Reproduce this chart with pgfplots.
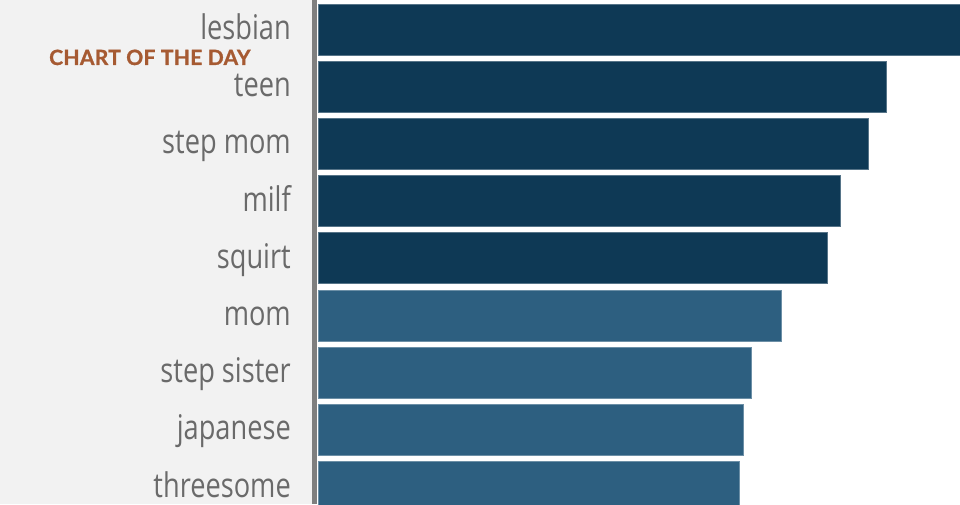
\documentclass[border=0pt]{standalone}
\usepackage{fontspec}
\usepackage{pgfplots}
\pgfplotsset{compat=1.18}
\setmainfont{Open Sans}
\newfontfamily\labelfont{Open Sans}[FakeStretch=0.8]
\newfontfamily\tagfont{Lato}[LetterSpace=1.5, BoldFeatures={FakeBold=1.2}]
\definecolor{bg}{HTML}{F2F2F2}
\definecolor{darkbar}{HTML}{0E3955}
\definecolor{lightbar}{HTML}{2D5F80}
\definecolor{labelgray}{HTML}{6A6A6A}
\definecolor{tagbrown}{HTML}{A65A32}
\definecolor{axisgray}{HTML}{7F7F7F}

\begin{document}
\begin{tikzpicture}
  \useasboundingbox (0,0) rectangle (960pt,504pt);
  \clip (0,0) rectangle (960pt,504pt);
  \fill[white] (0,0) rectangle (960pt,504pt);
  \fill[bg] (0,0) rectangle (313pt,504pt);
  \begin{axis}[
    at={(318pt,0pt)}, anchor=south west,
    scale only axis,
    width=642pt, height=504pt,
    xbar, bar width=51pt, bar shift=0pt,
    xmin=0, xmax=642,
    ymin=-0.516, ymax=8.295,
    y dir=reverse,
    axis line style={draw=none},
    xtick=\empty,
    ytick={0,...,8},
    yticklabels={lesbian,teen,step mom,milf,squirt,mom,step sister,japanese,threesome},
    yticklabel style={anchor=base east, inner sep=0pt, xshift=-27pt, yshift=-10pt,
      font=\labelfont\fontsize{34}{34}\selectfont, text=labelgray},
    ytick style={draw=none},
    major tick length=0pt,
  ]
    \addplot[fill=darkbar, draw=darkbar!70!white, line width=0.8pt] coordinates {
      (700,0) (568,1) (550,2) (522,3) (509,4)
    };
    \addplot[fill=lightbar, draw=lightbar!70!white, line width=0.8pt] coordinates {
      (463,5) (433,6) (425,7) (421,8)
    };
  \end{axis}
  \fill[axisgray] (312pt,0) rectangle (317pt,504pt);
  \node[anchor=base west, inner sep=0pt, text=tagbrown,
    font=\tagfont\bfseries\fontsize{21}{21}\selectfont] at (49pt,439pt) {CHART OF THE DAY};
\end{tikzpicture}
\end{document}
